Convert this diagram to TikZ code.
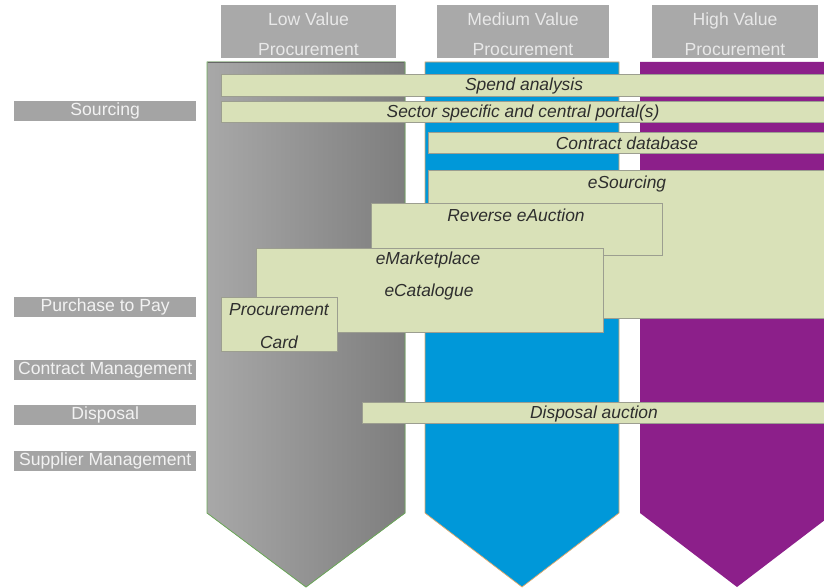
\documentclass[tikz,border=0pt]{standalone}
\usepackage{fontspec}
\setmainfont{Liberation Sans}
\begin{document}
\begin{tikzpicture}[x=1pt,y=-1pt,
  hdrbox/.style={fill=hdrgray, draw=none, minimum width=175, minimum height=53, inner sep=0, anchor=north west,
     text=hdrtext, align=center, font=\fontsize{17.6}{30}\selectfont},
  lblbox/.style={fill=lblgray, draw=none, minimum width=182, minimum height=20, inner sep=0, anchor=north west,
     text=lbltext, font=\fontsize{17.6}{20}\selectfont},
  gbox/.style={fill=boxgreen, draw=boxedge, line width=1.3, inner sep=0, anchor=north west},
  gtext/.style={text=boxtext, inner sep=0, font=\fontsize{17.4}{20}\selectfont\itshape}
]
\definecolor{hdrgray}{HTML}{A9A9A9}
\definecolor{hdrtext}{HTML}{E8E8E8}
\definecolor{lblgray}{HTML}{A4A4A4}
\definecolor{lbltext}{HTML}{F2F2F2}
\definecolor{boxgreen}{HTML}{D9E1B8}
\definecolor{boxedge}{HTML}{9C9E90}
\definecolor{boxtext}{HTML}{2E2E2E}
\definecolor{grayL}{HTML}{A8A8A8}
\definecolor{grayR}{HTML}{7E7E7E}
\definecolor{chevblue}{HTML}{0098D9}
\definecolor{chevpurple}{HTML}{8C1F8A}
\definecolor{edgegreen}{HTML}{6DAA5A}
\definecolor{edgeorange}{HTML}{E3A868}
\useasboundingbox (0,0) rectangle (824,588);
\clip (0,0) rectangle (824,588);
\fill[white] (0,0) rectangle (824,588);
% chevrons
\fill[left color=grayL, right color=grayR] (207,62) -- (405,62) -- (405,513) -- (306,587) -- (207,513) -- cycle;
\draw[edgegreen, line width=0.8] (207,62) -- (405,62) -- (405,513) -- (306,587) -- (207,513) -- cycle;
\draw[gray!80!black, line width=1.5] (208,62.5) -- (404,62.5);
\fill[chevblue] (425,62) -- (619,62) -- (619,513) -- (522,587) -- (425,513) -- cycle;
\draw[edgeorange, line width=0.7] (425,62) -- (619,62) -- (619,513) -- (522,587) -- (425,513) -- cycle;
\fill[chevpurple] (640,62) -- (834,62) -- (834,513) -- (737,587) -- (640,513) -- cycle;
% headers
\node[hdrbox] (hlow) at (221,5) {};
\node[hdrbox, minimum width=172] (hmed) at (437,5) {};
\node[hdrbox, minimum width=166] (hhigh) at (652,5) {};
\node[hdrbox, anchor=center, fill=none, minimum width=0, minimum height=0] (hlowt) at (308.5,34) {Low Value\\Procurement};
\node[hdrbox, anchor=center, fill=none, minimum width=0, minimum height=0] (hmedt) at (523,34) {Medium Value\\Procurement};
\node[hdrbox, anchor=center, fill=none, minimum width=0, minimum height=0] (hhight) at (735,34) {High Value\\Procurement};
% left labels
\node[lblbox] (lsrc) at (14,101) {Sourcing};
\node[lblbox] (lp2p) at (14,297) {Purchase to Pay};
\node[lblbox] (lcm) at (14,360) {Contract Management};
\node[lblbox] (ldis) at (14,405) {Disposal};
\node[lblbox] (lsup) at (14,451) {Supplier Management};
% green boxes
\node[gbox, minimum width=610, minimum height=22] (spend) at (221,74) {};
\node[gtext] (spendt) at (524,86) {Spend analysis};
\node[gbox, minimum width=610, minimum height=21] (sector) at (221,101) {};
\node[gtext] (sectort) at (523,113) {Sector specific and central portal(s)};
\node[gbox, minimum width=403, minimum height=21] (cdb) at (428,132) {};
\node[gtext] (cdbt) at (627,143.5) {Contract database};
\node[gbox, minimum width=403, minimum height=148] (esrc) at (428,170) {};
\node[gtext] (esrct) at (627,184) {eSourcing};
\node[gbox, minimum width=291, minimum height=52] (rev) at (371,203) {};
\node[gtext] (revt) at (516,215) {Reverse eAuction};
\node[gbox, minimum width=347, minimum height=84] (emkt) at (256,248) {};
\node[gtext] (emktt) at (428,260) {eMarketplace};
\node[gtext] (ecatt) at (429,292) {eCatalogue};
\node[gbox, minimum width=116, minimum height=54] (pcard) at (221,297) {};
\node[gtext] (pcardt1) at (279,310) {Procurement};
\node[gtext] (pcardt2) at (279,342) {Card};
\node[gbox, minimum width=470, minimum height=21] (disp) at (362,402) {};
\node[gtext] (dispt) at (594,413.5) {Disposal auction};
\end{tikzpicture}
\end{document}
